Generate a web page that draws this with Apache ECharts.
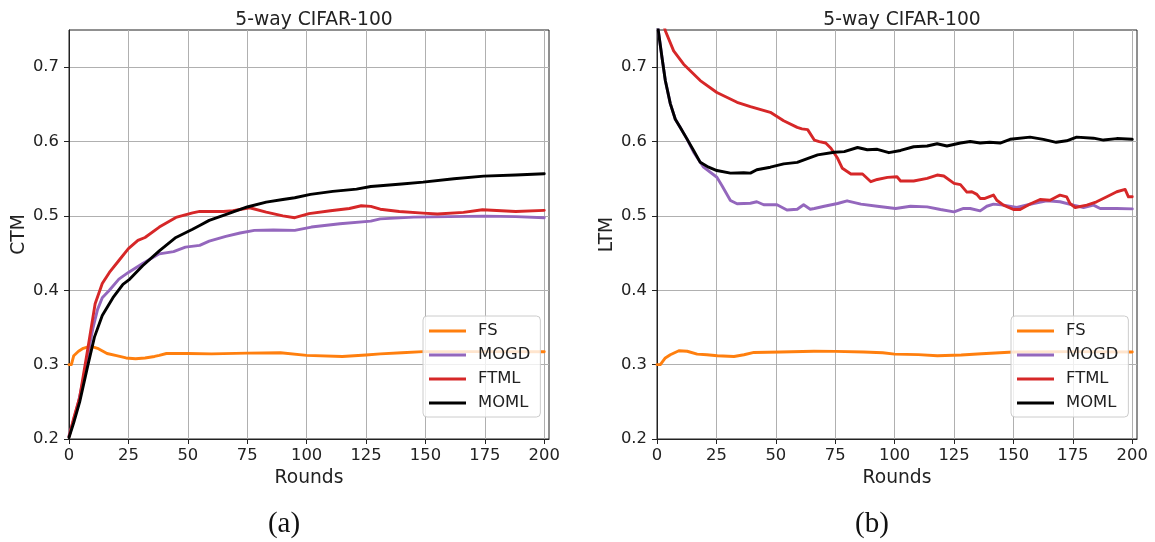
<!DOCTYPE html>
<html>
<head>
<meta charset="utf-8">
<title>5-way CIFAR-100</title>
<script src="https://cdn.jsdelivr.net/npm/echarts@6/dist/echarts.min.js"></script>
<style>
  html, body { margin: 0; padding: 0; background: #ffffff; }
  #chart { width: 1155px; height: 542px; }
</style>
</head>
<body>
<div id="chart"></div>
<script>
// ---- data: [round, value] pairs per method ----
const seriesNames = ['FS', 'MOGD', 'FTML', 'MOML'];
const seriesColors = ['#ff7f0e', '#9467bd', '#d62728', '#000000'];
const xTicks = [0, 25, 50, 75, 100, 125, 150, 175, 200];
const yTicks = [0.2, 0.3, 0.4, 0.5, 0.6, 0.7];

// (a) CTM
const ctmFS = [[0,0.300],[1,0.300],[2,0.312],[4,0.318],[6,0.322],[9,0.325],[12,0.322],[16,0.315],[20,0.312],[24,0.309],[28,0.308],[32,0.309],[36,0.311],[38,0.3125],[41,0.315],[50,0.315],[60,0.3145],[75,0.3155],[89,0.316],[100,0.3125],[115,0.311],[125,0.313],[131,0.3145],[140,0.316],[149,0.3175],[175,0.3175],[200,0.3173]];
const ctmMOGD = [[0,0.204],[2,0.226],[4,0.25],[6,0.28],[8,0.315],[10,0.348],[12,0.374],[14,0.39],[17,0.40],[21,0.415],[25,0.424],[31,0.436],[38,0.449],[44,0.452],[49,0.458],[55,0.4604],[59,0.466],[66,0.4725],[72,0.477],[78,0.4805],[86,0.481],[95,0.4805],[102,0.485],[114,0.4895],[127,0.493],[131,0.496],[145,0.4984],[160,0.499],[175,0.4997],[188,0.499],[200,0.4976]];
const ctmFTML = [[0,0.203],[2,0.228],[4.5,0.256],[8,0.323],[11,0.382],[14,0.409],[17,0.424],[21,0.44],[25,0.456],[29,0.467],[32,0.471],[38,0.485],[45,0.498],[52,0.504],[55,0.506],[59,0.506],[65,0.506],[69,0.507],[76,0.511],[83,0.505],[90,0.500],[95,0.4976],[101,0.503],[110,0.507],[118,0.510],[123,0.5137],[127,0.5128],[131,0.509],[139,0.506],[149,0.5038],[155,0.5025],[166,0.5047],[174,0.5083],[188,0.506],[200,0.5074]];
const ctmMOML = [[0,0.202],[2,0.222],[4.5,0.25],[8,0.30],[10.7,0.337],[14,0.366],[18.5,0.39],[22.7,0.408],[25.6,0.415],[31,0.433],[38,0.453],[45,0.471],[52,0.482],[55,0.487],[59,0.494],[65,0.5007],[75,0.512],[83,0.5185],[90,0.522],[95,0.5244],[101.6,0.529],[111,0.533],[121,0.536],[127,0.5396],[131,0.5405],[140,0.543],[149,0.5454],[162,0.55],[174.5,0.5535],[188,0.555],[200,0.5566]];

// (b) LTM
const ltmFS = [[0,0.300],[1.4,0.300],[3.5,0.309],[5.6,0.3133],[9.2,0.3187],[12.7,0.318],[16.9,0.3142],[21,0.3133],[25.4,0.312],[32.4,0.311],[36.6,0.3133],[40.8,0.3164],[52,0.317],[66,0.318],[75,0.3178],[87,0.317],[95,0.316],[100,0.3142],[110,0.3135],[118,0.312],[128,0.313],[136.6,0.3147],[150,0.317],[175,0.3175],[200,0.317]];
const ltmMOGD = [[0,0.762],[2.1,0.713],[3.5,0.682],[5.6,0.651],[7.7,0.63],[9.8,0.619],[12.6,0.6036],[15.4,0.5857],[19.6,0.5655],[25.2,0.552],[27.3,0.541],[30.9,0.5208],[33.7,0.5163],[39.3,0.517],[42,0.519],[44.9,0.515],[50.5,0.515],[54.7,0.508],[59,0.509],[61.7,0.515],[64.5,0.509],[66.2,0.51],[70.4,0.513],[76,0.5167],[80,0.5203],[85.8,0.5158],[92.7,0.513],[100.4,0.51],[106.7,0.513],[113.7,0.5122],[119.3,0.5086],[125,0.5055],[129,0.51],[131.8,0.51],[136,0.5068],[138.8,0.513],[141.6,0.5158],[145.8,0.5145],[151.4,0.5113],[158.4,0.5167],[164,0.5203],[169.6,0.519],[175.2,0.5145],[179.5,0.5113],[183.7,0.5145],[186.5,0.51],[193.5,0.51],[200,0.5095]];
const ltmFTML = [[0,0.795],[3.5,0.749],[7,0.722],[11.2,0.704],[18.2,0.682],[25.2,0.666],[33.7,0.6528],[39.3,0.647],[47.7,0.6393],[53.3,0.628],[59,0.619],[61,0.617],[63.4,0.616],[66.2,0.602],[68.3,0.600],[71,0.598],[73.2,0.591],[76,0.5775],[78,0.564],[81.6,0.5563],[86.5,0.5563],[90,0.546],[92.7,0.549],[97,0.5518],[101,0.5527],[102.5,0.547],[108,0.547],[113.7,0.5505],[117.9,0.555],[120.7,0.5536],[125,0.5437],[127.7,0.542],[130.4,0.532],[132.5,0.5325],[134.6,0.529],[136,0.5235],[138,0.5235],[141.6,0.528],[143,0.521],[145.8,0.5145],[150,0.5086],[152.8,0.5086],[157,0.516],[161.2,0.522],[165.4,0.521],[168.2,0.5257],[169.6,0.528],[172.4,0.5257],[173.8,0.5167],[176,0.5113],[180.9,0.5145],[185,0.519],[189.3,0.5257],[193.5,0.5325],[197,0.5356],[198.4,0.5257],[200,0.5257]];
const ltmMOML = [[0,0.762],[2.1,0.713],[3.5,0.682],[5.6,0.651],[7.7,0.63],[9.8,0.619],[12.6,0.6036],[15.4,0.588],[18.2,0.572],[21.7,0.5655],[25.2,0.561],[30.9,0.5575],[36.5,0.558],[39.3,0.5575],[42,0.5621],[47.7,0.5655],[53.3,0.57],[59,0.572],[63,0.5768],[67.6,0.582],[74.6,0.5856],[78.8,0.5865],[84.4,0.592],[88.5,0.589],[92.7,0.5896],[97.6,0.585],[102.5,0.588],[108,0.593],[113.7,0.594],[117.9,0.597],[122,0.594],[127.7,0.598],[131.8,0.6],[136,0.598],[140,0.599],[144.4,0.598],[148.6,0.603],[157,0.606],[162.6,0.603],[168,0.599],[172.4,0.601],[176.6,0.606],[183.7,0.6045],[187.9,0.602],[193.5,0.604],[200,0.603]];

const panels = [
  { yName: 'CTM', caption: '(a)', data: [ctmFS, ctmMOGD, ctmFTML, ctmMOML] },
  { yName: 'LTM', caption: '(b)', data: [ltmFS, ltmMOGD, ltmFTML, ltmMOML] }
];

// ---- layout ----
const FONT = 'DejaVu Sans';
const INK = '#222222';
const gridLefts = [69, 657];
const gridTop = 30, gridW = 480, gridH = 409;

const chart = echarts.init(document.getElementById('chart'), null, { renderer: 'canvas' });

const grids = [], xAxes = [], yAxes = [], series = [], titles = [], legends = [], graphics = [];

panels.forEach((p, i) => {
  const gl = gridLefts[i];
  grids.push({
    left: gl, top: gridTop, width: gridW, height: gridH,
    show: true, borderColor: INK, borderWidth: 1, backgroundColor: 'transparent'
  });
  xAxes.push({
    gridIndex: i, type: 'value', min: 0, max: 202, interval: 25,
    name: 'Rounds', nameLocation: 'middle', nameGap: 30,
    nameTextStyle: { fontFamily: FONT, fontSize: 18.7, color: INK },
    axisLine: { show: true, onZero: false, lineStyle: { color: INK, width: 1 } },
    axisTick: { show: true, length: 5, lineStyle: { color: INK }, customValues: xTicks },
    axisLabel: { customValues: xTicks, fontFamily: FONT, fontSize: 16.4, color: INK, margin: 9 },
    splitLine: { show: true, lineStyle: { color: '#b0b0b0', width: 1 } }
  });
  yAxes.push({
    gridIndex: i, type: 'value', min: 0.2, max: 0.75, interval: 0.1,
    name: p.yName, nameLocation: 'middle', nameGap: 39,
    nameTextStyle: { fontFamily: FONT, fontSize: 18.7, color: INK },
    axisLine: { show: true, onZero: false, lineStyle: { color: INK, width: 1 } },
    axisTick: { show: true, length: 5, lineStyle: { color: INK }, customValues: yTicks },
    axisLabel: { customValues: yTicks, fontFamily: FONT, fontSize: 16.4, color: INK, margin: 10,
                 formatter: v => v.toFixed(1) },
    splitLine: { show: true, lineStyle: { color: '#b0b0b0', width: 1 } }
  });
  p.data.forEach((d, k) => {
    series.push({
      type: 'line', name: seriesNames[k], xAxisIndex: i, yAxisIndex: i,
      data: d, showSymbol: false, symbol: 'none', clip: true,
      color: seriesColors[k],
      lineStyle: { color: seriesColors[k], width: 2.9, join: 'round', cap: 'round' },
      z: 3 + k
    });
  });
  titles.push({
    text: '5-way CIFAR-100', left: gl + gridW / 2, top: 6, textAlign: 'center',
    textStyle: { fontFamily: FONT, fontSize: 18.7, fontWeight: 'normal', color: INK }
  });
  legends.push({
    orient: 'vertical', left: gl + 354, top: 316,
    data: seriesNames, icon: 'rect', itemWidth: 37, itemHeight: 3, itemGap: 8,
    padding: [7, 10, 6, 6], selectedMode: false,
    backgroundColor: 'rgba(255,255,255,0.8)', borderColor: '#cccccc', borderWidth: 1, borderRadius: 4,
    textStyle: { fontFamily: FONT, fontSize: 16.4, color: INK, lineHeight: 16, padding: [0, 0, 0, 7] }
  });
  graphics.push({
    type: 'text', x: gl + gridW / 2 - 25, y: 524,
    style: { text: p.caption, fontFamily: 'Liberation Serif', fontSize: 29, fill: '#111',
             align: 'center', verticalAlign: 'middle' }
  });
});

chart.setOption({
  animation: false,
  backgroundColor: '#ffffff',
  title: titles,
  legend: legends,
  grid: grids,
  xAxis: xAxes,
  yAxis: yAxes,
  series: series,
  graphic: graphics
});
</script>
</body>
</html>
